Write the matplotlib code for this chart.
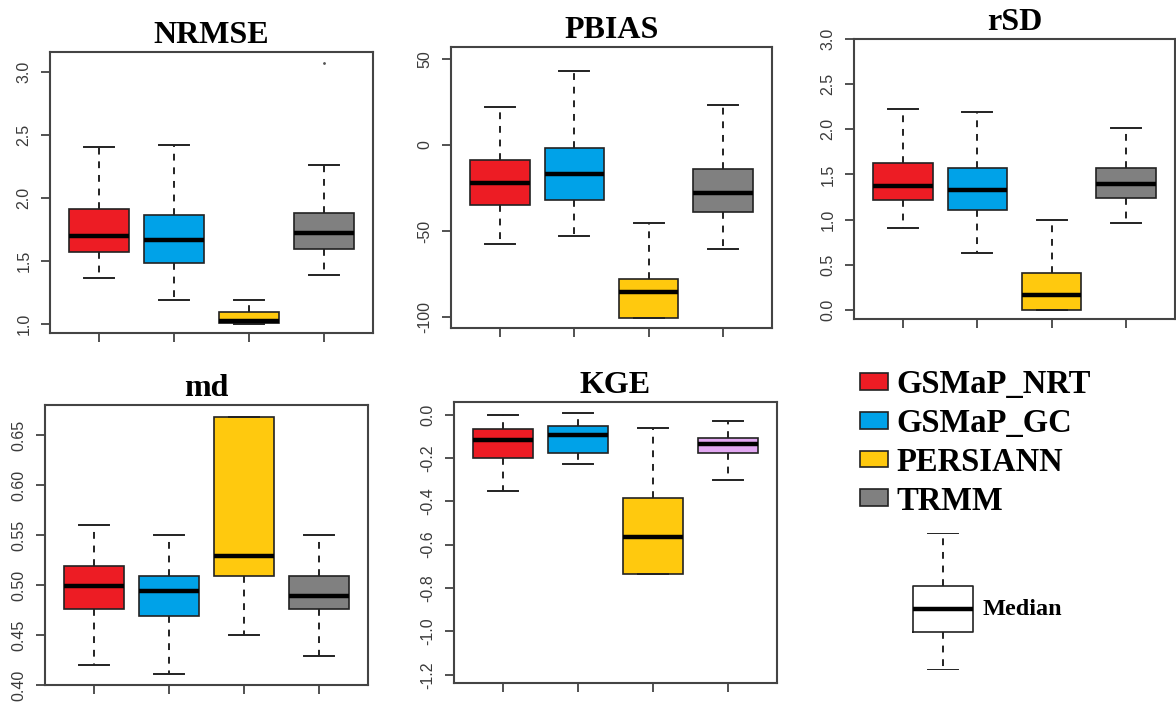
import numpy as np
import matplotlib
matplotlib.use("Agg")
import matplotlib.pyplot as plt
from matplotlib.patches import Patch

# products, one box per product in every panel
products = ["GSMaP_NRT", "GSMaP_GC", "PERSIANN", "TRMM"]
colors = ["#ED1C24", "#00A2E8", "#FFC90E", "#808080"]
kge_colors = ["#ED1C24", "#00A2E8", "#FFC90E", "#E2A8F2"]

# box stats: low whisker, Q1, median, Q3, high whisker
nrmse_lo  = [1.365, 1.19, 1.005, 1.39]
nrmse_q1  = [1.571, 1.484, 1.008, 1.60]
nrmse_med = [1.70, 1.667, 1.024, 1.72]
nrmse_q3  = [1.913, 1.865, 1.095, 1.88]
nrmse_hi  = [2.405, 2.42, 1.19, 2.26]
nrmse_out = [[], [], [], [3.07]]

pbias_lo  = [-57.5, -53.0, -100.8, -60.4]
pbias_q1  = [-35.0, -31.8, -100.8, -39.0]
pbias_med = [-22.0, -16.6, -85.4, -27.9]
pbias_q3  = [-8.8, -2.0, -78.0, -14.2]
pbias_hi  = [22.2, 42.9, -45.4, 23.2]

rsd_lo  = [0.908, 0.632, 0.0, 0.963]
rsd_q1  = [1.22, 1.103, 0.0, 1.239]
rsd_med = [1.368, 1.331, 0.162, 1.39]
rsd_q3  = [1.625, 1.574, 0.41, 1.57]
rsd_hi  = [2.224, 2.19, 1.0, 2.015]

md_lo  = [0.42, 0.411, 0.45, 0.429]
md_q1  = [0.4757, 0.469, 0.509, 0.4757]
md_med = [0.499, 0.494, 0.529, 0.489]
md_q3  = [0.519, 0.509, 0.668, 0.509]
md_hi  = [0.56, 0.55, 0.668, 0.55]

kge_lo  = [-0.352, -0.229, -0.734, -0.30]
kge_q1  = [-0.198, -0.177, -0.734, -0.177]
kge_med = [-0.118, -0.095, -0.565, -0.134]
kge_q3  = [-0.068, -0.054, -0.383, -0.106]
kge_hi  = [0.0, 0.008, -0.06, -0.031]

nrmse_ticks = [1.0, 1.5, 2.0, 2.5, 3.0]
nrmse_labels = ["1.0", "1.5", "2.0", "2.5", "3.0"]
pbias_ticks = [-100, -50, 0, 50]
pbias_labels = ["-100", "-50", "0", "50"]
rsd_ticks = [0.0, 0.5, 1.0, 1.5, 2.0, 2.5, 3.0]
rsd_labels = ["0.0", "0.5", "1.0", "1.5", "2.0", "2.5", "3.0"]
md_ticks = [0.40, 0.45, 0.50, 0.55, 0.60, 0.65]
md_labels = ["0.40", "0.45", "0.50", "0.55", "0.60", "0.65"]
kge_ticks = [-1.2, -1.0, -0.8, -0.6, -0.4, -0.2, 0.0]
kge_labels = ["-1.2", "-1.0", "-0.8", "-0.6", "-0.4", "-0.2", "0.0"]

# schematic key box (unit scale)
key_stats = [0.0, 0.277, 0.445, 0.613, 1.0]

W, H = 1176, 704
fig = plt.figure(figsize=(W / 100, H / 100), dpi=100)

def px_axes(l, t, r, b):
    return fig.add_axes([l / W, 1 - b / H, (r - l) / W, (b - t) / H])

def make_stats(lo, q1, med, q3, hi, out=None):
    st = []
    for i in range(len(lo)):
        st.append(dict(whislo=lo[i], q1=q1[i], med=med[i], q3=q3[i], whishi=hi[i],
                       fliers=(out[i] if out else [])))
    return st

dash = (0, (3.5, 3.5))

def panel(rect, title, stats, cols, ylim, ticks, labels):
    ax = px_axes(*rect)
    bp = ax.bxp(stats, positions=[1, 2, 3, 4], widths=0.8, capwidths=0.4,
                patch_artist=True, showfliers=True,
                boxprops=dict(edgecolor="#222222", linewidth=1.2),
                medianprops=dict(color="black", linewidth=3.2, solid_capstyle="butt"),
                whiskerprops=dict(color="#222222", linewidth=1.4, linestyle=dash),
                capprops=dict(color="#222222", linewidth=1.4),
                flierprops=dict(marker=".", markersize=2, markerfacecolor="#555555",
                                markeredgecolor="#555555"))
    for p, c in zip(bp["boxes"], cols):
        p.set_facecolor(c)
    ax.set_xlim(0.34, 4.66)
    ax.set_ylim(*ylim)
    ax.set_xticks([1, 2, 3, 4])
    ax.set_xticklabels([])
    ax.set_yticks(ticks)
    ax.set_yticklabels(labels, rotation=90, va="center", family="Liberation Sans",
                       fontsize=11.5, color="#3a3a3a")
    ax.tick_params(axis="both", direction="out", length=6.5, width=1.2, color="#333333")
    ax.tick_params(axis="y", pad=7)
    for s in ax.spines.values():
        s.set_linewidth(1.5)
        s.set_color("#444444")
    ax.set_title(title, family="Liberation Serif", fontweight="bold", fontsize=23, pad=6.5)
    return ax

panel((50, 52, 373, 333), "NRMSE",
      make_stats(nrmse_lo, nrmse_q1, nrmse_med, nrmse_q3, nrmse_hi, nrmse_out),
      colors, (0.93, 3.16), nrmse_ticks, nrmse_labels)
panel((451, 47, 772, 328), "PBIAS",
      make_stats(pbias_lo, pbias_q1, pbias_med, pbias_q3, pbias_hi),
      colors, (-106.4, 57), pbias_ticks, pbias_labels)
panel((854, 39, 1175, 319), "rSD",
      make_stats(rsd_lo, rsd_q1, rsd_med, rsd_q3, rsd_hi),
      colors, (-0.1, 3.0), rsd_ticks, rsd_labels)
panel((45, 405, 368, 685), "md",
      make_stats(md_lo, md_q1, md_med, md_q3, md_hi),
      colors, (0.40, 0.68), md_ticks, md_labels)
panel((454, 402, 777, 683), "KGE",
      make_stats(kge_lo, kge_q1, kge_med, kge_q3, kge_hi),
      kge_colors, (-1.238, 0.058), kge_ticks, kge_labels)

# legend
handles = [Patch(facecolor=c, edgecolor="#222222", linewidth=1.2) for c in colors]
fig.legend(handles, products, loc="upper left", bbox_to_anchor=(860 / W, 1 - 369 / H),
           frameon=False, borderpad=0, borderaxespad=0, handlelength=0.85,
           handleheight=0.42, handletextpad=0.27, labelspacing=0.24,
           prop=dict(family="Liberation Serif", weight="bold", size=23.5))

# key box explaining the median line
kax = px_axes(867, 533, 1019, 670)
kax.bxp([dict(whislo=key_stats[0], q1=key_stats[1], med=key_stats[2],
              q3=key_stats[3], whishi=key_stats[4], fliers=[])],
        positions=[1], widths=0.8, capwidths=0.4, showfliers=False,
        boxprops=dict(color="#222222", linewidth=1.2),
        medianprops=dict(color="black", linewidth=3.2),
        whiskerprops=dict(color="#222222", linewidth=1.4, linestyle=dash),
        capprops=dict(color="#222222", linewidth=1.4))
kax.set_xlim(0, 2)
kax.set_ylim(0, 1)
kax.axis("off")
kax.text(1.52, key_stats[2], "Median", ha="left", va="center",
         family="Liberation Serif", fontweight="bold", fontsize=17.5)

fig.savefig("out.png", dpi=100)
